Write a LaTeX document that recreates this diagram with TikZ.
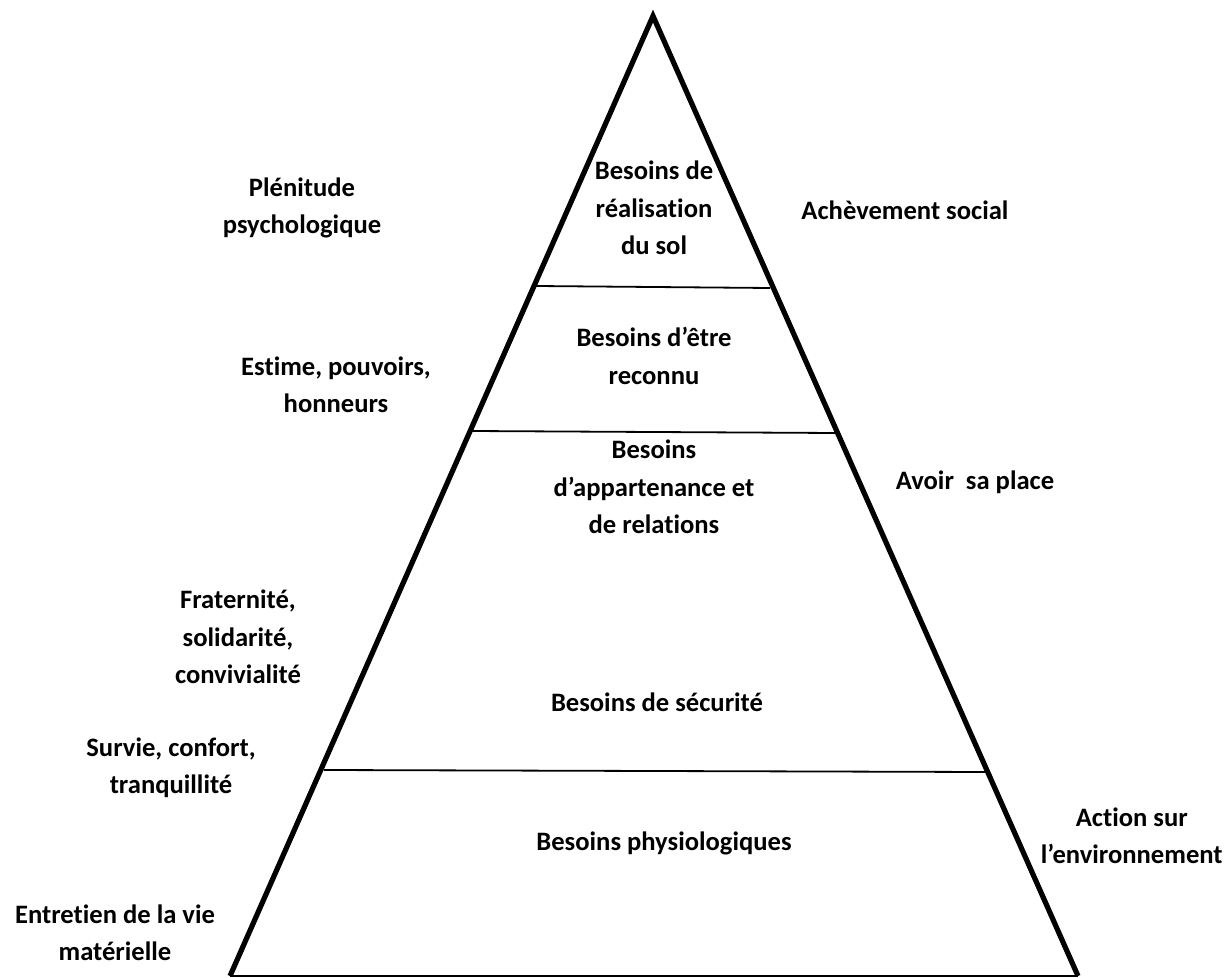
\documentclass[tikz,border=0pt]{standalone}
\usepackage{fontspec}
\setmainfont{Carlito}[Ligatures=NoCommon]
\usetikzlibrary{positioning}
\tikzset{lbl/.style={font=\bfseries\fontsize{13.3}{18.7}\selectfont, align=center, inner sep=0pt},
  sidestroke/.style={line width=2.6pt, line join=miter},
  tierline/.style={line width=0.9pt}}

\begin{document}
\begin{tikzpicture}[x=0.5pt,y=-0.5pt]
\useasboundingbox (0,0) rectangle (1227,978);

% pyramid
\coordinate (apex) at (653,16);
\coordinate (bl) at (230,976);
\coordinate (br) at (1078,976);
\draw[sidestroke] (bl) -- (apex) -- (br);
\draw[line width=1.4pt] (bl) -- (br);

% tiers
\coordinate (t1l) at (536,286);
\coordinate (t1r) at (770,288);
\coordinate (t2l) at (471,431);
\coordinate (t2r) at (835,433);
\coordinate (t3l) at (324,770);
\coordinate (t3r) at (985,772);
\draw[tierline] (t1l) -- (t1r);
\draw[tierline] (t2l) -- (t2r);
\draw[tierline] (t3l) -- (t3r);

% inside the pyramid
\node[lbl] (real) at (654,208) {Besoins de\\réalisation\\du sol};
\node[lbl] (reco) at (654,356) {Besoins d’être\\reconnu};
\node[lbl] (appa) at (654,487) {Besoins\\d’appartenance et\\de relations};
\node[lbl] (secu) at (657,702) {Besoins de sécurité};
\node[lbl] (phys) at (664,843) {Besoins physiologiques};

% left side
\node[lbl] (plen) at (302,208) {Plénitude\\psychologique};
\node[lbl] (esti) at (336,385) {Estime, pouvoirs,\\honneurs};
\node[lbl] (frat) at (238,637) {Fraternité,\\solidarité,\\convivialité};
\node[lbl] (surv) at (171,768) {Survie, confort,\\tranquillité};
\node[lbl] (entr) at (115,933) {Entretien de la vie\\matérielle};

% right side
\node[lbl] (ache) at (905,210) {Achèvement social};
\node[lbl] (avoi) at (975,482) {Avoir\ \ sa place};
\node[lbl,anchor=east] (acti) at (1223,836) {Action sur\\l’environnement};
\end{tikzpicture}
\end{document}
